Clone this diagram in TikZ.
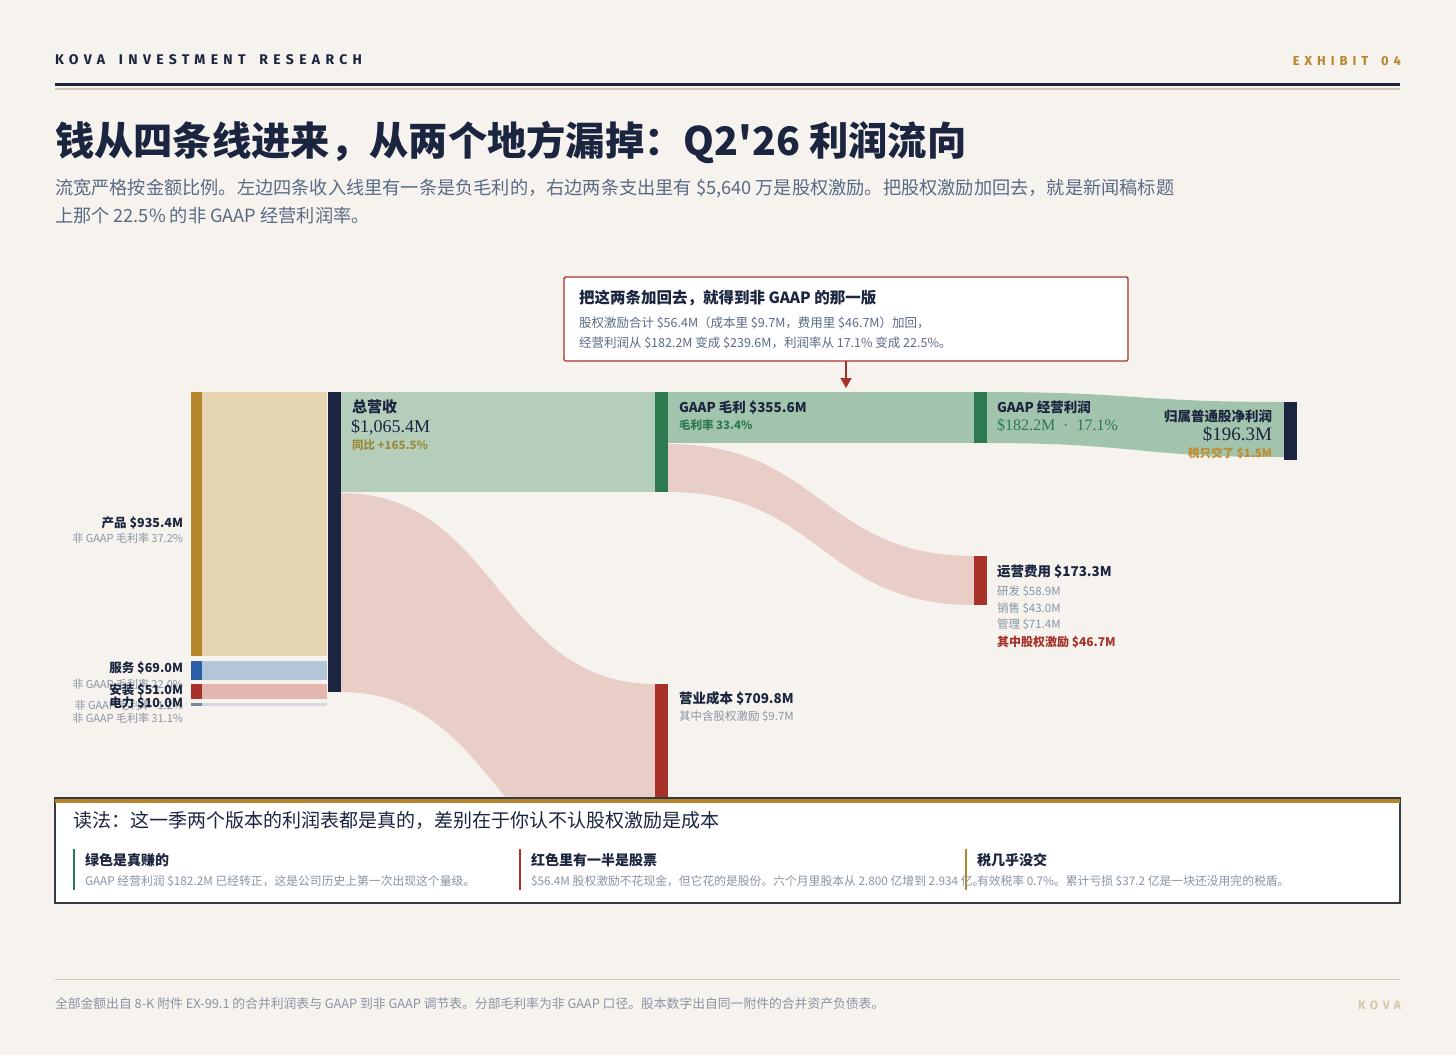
\documentclass[tikz,border=0pt]{standalone}
\usepackage{fontspec}
\setmainfont{Noto Sans CJK SC}
\newfontfamily\titlefont{Noto Sans CJK SC}
\newfontfamily\numserif{Liberation Serif}
\newfontfamily\spacedcaps[LetterSpace=38,WordSpace=1.6]{Fira Sans}
\usetikzlibrary{arrows.meta}

\definecolor{paper}{HTML}{F6F3EE}
\definecolor{ink}{HTML}{1B2540}
\definecolor{gold}{HTML}{B5862B}
\definecolor{mute}{HTML}{8A94A3}
\definecolor{subtle}{HTML}{5A6A84}
\definecolor{gain}{HTML}{2E7A50}
\definecolor{loss}{HTML}{A8322A}
\definecolor{gpband}{HTML}{B5CEBB}
\definecolor{opband}{HTML}{A2C3AC}
\definecolor{costband}{HTML}{E9CDC7}
\definecolor{prodband}{HTML}{E5D4B2}
\definecolor{servband}{HTML}{B2C5D9}
\definecolor{servbar}{HTML}{2A5FA8}
\definecolor{instband}{HTML}{E2B7AF}
\definecolor{powband}{HTML}{D7D8DB}
\definecolor{powbar}{HTML}{7C8696}
\definecolor{olive}{HTML}{9A8B3C}
\definecolor{taxgold}{HTML}{C08B2C}
\definecolor{rulegray}{HTML}{CFC7B4}
\definecolor{kovagold}{HTML}{D3C7A8}
\definecolor{boxline}{HTML}{333A44}

\newcommand{\fsz}[1]{\fontsize{#1}{#1}\selectfont}
% band from (x1,top1--bot1) to (x2,top2--bot2)
\newcommand{\flowband}[7]{\fill[#1] (#2,#3) .. controls ({(#2+#5)/2},#3) and ({(#2+#5)/2},#6) .. (#5,#6) -- (#5,#7) .. controls ({(#2+#5)/2},#7) and ({(#2+#5)/2},#4) .. (#2,#4) -- cycle;}

\begin{document}
\begin{tikzpicture}[x=1pt,y=-1pt,every node/.style={inner sep=0pt,outer sep=0pt},
    lhead/.style={anchor=base east,font=\bfseries\fsz{12.5},text=ink},
    lnote/.style={anchor=base east,font=\fsz{11},text=mute},
    rhead/.style={anchor=base west,font=\bfseries\fsz{13.5},text=ink},
    rnote/.style={anchor=base west,font=\fsz{11.5},text=mute},
    colhead/.style={anchor=base west,font=\bfseries\fsz{14},text=ink},
    colbody/.style={anchor=base west,font=\fsz{11.8},text=mute}]
    \useasboundingbox[fill=paper] (0,0) rectangle (1456,1055);

    % Header
    \node[anchor=base west,font=\spacedcaps\bfseries\fsz{14},text=ink] (brand) at (55,64) {KOVA INVESTMENT RESEARCH};
    \node[anchor=base east,font=\spacedcaps\bfseries\fsz{13},text=gold] (exhibit) at (1401,65) {EXHIBIT 04};
    \fill[ink] (55,83) rectangle (1400,86);
    \fill[rulegray] (55,88) rectangle (1400,89.5);

    % Title
    \node[anchor=base west,font=\titlefont\bfseries\fsz{39.3},text=ink] (title) at (55,155) {钱从四条线进来，从两个地方漏掉：Q2'26 利润流向};
    \node[anchor=base west,font=\fsz{18.2},text=subtle] (lede1) at (55,194) {流宽严格按金额比例。左边四条收入线里有一条是负毛利的，右边两条支出里有 \$5,640 万是股权激励。把股权激励加回去，就是新闻稿标题};
    \node[anchor=base west,font=\fsz{18.2},text=subtle] (lede2) at (55,222) {上那个 22.5\% 的非 GAAP 经营利润率。};

    % Bands
    \fill[prodband] (202,392) rectangle (327,656);
    \fill[servband] (202,661) rectangle (327,680);
    \fill[instband] (202,684) rectangle (327,699);
    \fill[powband] (202,703) rectangle (327,706);
    \fill[gpband] (341,392) rectangle (655,492);
    \flowband{costband}{341}{493}{692}{655}{684}{884}
    \fill[opband] (668,392) rectangle (974,443);
    \flowband{costband}{668}{444}{492}{974}{556}{605}
    \flowband{opband}{987}{392}{443}{1284}{402}{457}

    % Bars
    \fill[gold] (191,392) rectangle (202,656);
    \fill[servbar] (191,661) rectangle (202,680);
    \fill[loss] (191,684) rectangle (202,699);
    \fill[powbar] (191,703) rectangle (202,705.5);
    \fill[ink] (328,392) rectangle (341,692);
    \fill[gain] (655,392) rectangle (668,492);
    \fill[loss] (655,684) rectangle (668,884);
    \fill[gain] (974,392) rectangle (987,443);
    \fill[loss] (974,556) rectangle (987,605);
    \fill[ink] (1284,402) rectangle (1297,460);

    % Segment labels
    \node[lhead] (prod) at (183,527) {产品 \$935.4M};
    \node[lnote] (prodm) at (183,542) {非 GAAP 毛利率 37.2\%};
    \node[lnote] (servm) at (183,688) {非 GAAP 毛利率 22.0\%};
    \node[lnote] (instm) at (183,709) {非 GAAP 毛利率 -1.2\%};
    \node[lnote] (powm) at (183,722) {非 GAAP 毛利率 31.1\%};
    \node[lhead] (serv) at (183,672) {服务 \$69.0M};
    \node[lhead] (inst) at (183,694) {安装 \$51.0M};
    \node[lhead] (pow) at (183,707) {电力 \$10.0M};

    % Flow labels
    \node[anchor=base west,font=\bfseries\fsz{15},text=ink] (rev) at (352,412) {总营收};
    \node[anchor=base west,font=\numserif\fsz{18},text=ink] (revv) at (351,432) {\$1,065.4M};
    \node[anchor=base west,font=\bfseries\fsz{11.5},text=olive] (revg) at (352,449.5) {同比 +165.5\%};
    \node[rhead] (gp) at (679,412.5) {GAAP 毛利 \$355.6M};
    \node[anchor=base west,font=\bfseries\fsz{11.5},text=gain] (gpm) at (679,429.5) {毛利率 33.4\%};
    \node[rhead] (op) at (997,412.5) {GAAP 经营利润};
    \node[anchor=base west,font=\numserif\fsz{16},text=gain] (opv) at (997,430.5) {\$182.2M\enspace·\enspace17.1\%};
    \node[anchor=base east,font=\bfseries\fsz{13.5},text=ink] (net) at (1272,421) {归属普通股净利润};
    \node[anchor=base east,font=\numserif\fsz{19},text=ink] (netv) at (1272,440.5) {\$196.3M};
    \node[anchor=base east,font=\bfseries\fsz{11.5},text=taxgold] (tax) at (1272,457.5) {税只交了 \$1.5M};
    \node[rhead] (opex) at (997,576) {运营费用 \$173.3M};
    \node[rnote] (rd) at (997,595.5) {研发 \$58.9M};
    \node[rnote] (sm) at (997,612) {销售 \$43.0M};
    \node[rnote] (ga) at (997,628.5) {管理 \$71.4M};
    \node[anchor=base west,font=\bfseries\fsz{12},text=loss] (sbc) at (997,646.5) {其中股权激励 \$46.7M};
    \node[rhead] (cogs) at (679,703) {营业成本 \$709.8M};
    \node[rnote] (cogsm) at (679,720.5) {其中含股权激励 \$9.7M};

    % Callout
    \node[draw=loss,line width=1.4pt,fill=white,rounded corners=1.5pt,minimum width=564pt,minimum height=84pt,anchor=north west] (callout) at (564,277) {};
    \node[anchor=base west,font=\bfseries\fsz{15.5},text=ink] (callt) at (579,303) {把这两条加回去，就得到非 GAAP 的那一版};
    \node[anchor=base west,font=\fsz{12.5},text=subtle] (call1) at (579,327) {股权激励合计 \$56.4M（成本里 \$9.7M，费用里 \$46.7M）加回，};
    \node[anchor=base west,font=\fsz{12.5},text=subtle] (call2) at (579,347) {经营利润从 \$182.2M 变成 \$239.6M，利润率从 17.1\% 变成 22.5\%。};
    \coordinate (gptop) at (846,388);
    \draw[loss,line width=1.5pt,-{Triangle[width=11pt,length=10pt]}] (callout.south) -- (gptop);

    % Reading box
    \node[draw=boxline,line width=1.3pt,fill=white,minimum width=1345pt,minimum height=105pt,anchor=north west] (readbox) at (55,798) {};
    \fill[gold] (55,798.5) rectangle (1400,803);
    \node[anchor=base west,font=\fsz{19},text=ink] (readt) at (73,827) {读法：这一季两个版本的利润表都是真的，差别在于你认不认股权激励是成本};
    \fill[gain] (73,849) rectangle (75,890);
    \fill[loss] (519,849) rectangle (521,890);
    \fill[gold] (965,849) rectangle (967,890);
    \node[colhead] (green) at (85,865) {绿色是真赚的};
    \node[colbody] (greenb) at (85,885.5) {GAAP 经营利润 \$182.2M 已经转正，这是公司历史上第一次出现这个量级。};
    \node[colhead] (red) at (531,865) {红色里有一半是股票};
    \node[colbody] (redb) at (531,885.5) {\$56.4M 股权激励不花现金，但它花的是股份。六个月里股本从 2.800 亿增到 2.934 亿。};
    \node[colhead] (taxh) at (977,865) {税几乎没交};
    \node[colbody] (taxb) at (977,885.5) {有效税率 0.7\%。累计亏损 \$37.2 亿是一块还没用完的税盾。};

    % Footer
    \draw[rulegray,line width=1pt] (55,979) -- (1400,979);
    \node[anchor=base west,font=\fsz{12.8},text=mute] (source) at (55,1008) {全部金额出自 8-K 附件 EX-99.1 的合并利润表与 GAAP 到非 GAAP 调节表。分部毛利率为非 GAAP 口径。股本数字出自同一附件的合并资产负债表。};
    \node[anchor=base east,font=\spacedcaps\bfseries\fsz{12},text=kovagold] (kova) at (1401,1009) {KOVA};
\end{tikzpicture}
\end{document}
